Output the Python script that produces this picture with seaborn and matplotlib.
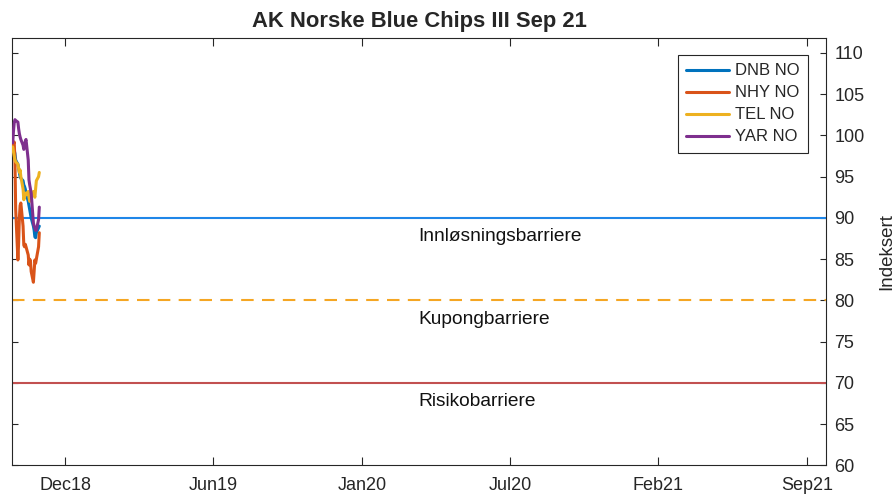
import numpy as np
import pandas as pd
import seaborn as sns
import matplotlib.pyplot as plt
import matplotlib.dates as mdates
from matplotlib.ticker import FixedLocator, MultipleLocator

# Daily index levels (start = 100)
dates = pd.bdate_range("2018-09-24", periods=27)

dnb = [99.3, 98.8, 98.2, 97.8, 97.0, 96.5, 96.0, 95.5, 95.0, 94.8, 94.5, 94.0, 93.8, 93.5,
       93.0, 92.0, 91.5, 91.0, 90.5, 90.0, 89.0, 88.5, 87.7, 87.6, 88.2, 88.8, 89.0]
nhy = [98.5, 99.0, 99.2, 97.0, 91.0, 84.9, 87.0, 90.0, 91.5, 91.8, 89.0, 86.7, 86.5, 86.8,
       86.5, 85.5, 84.3, 85.0, 84.8, 83.5, 82.2, 83.5, 84.9, 84.5, 85.0, 86.5, 88.2]
tel = [98.6, 98.0, 97.5, 97.0, 96.8, 96.5, 96.0, 95.5, 95.8, 95.0, 93.5, 92.2, 92.5, 93.0,
       92.8, 93.2, 92.5, 92.0, 92.2, 92.8, 93.2, 92.8, 92.5, 93.5, 94.5, 95.0, 95.5]
yar = [99.1, 100.5, 101.5, 101.9, 101.8, 101.6, 100.8, 100.2, 99.8, 99.5, 98.8, 98.3, 98.6, 99.3,
       99.5, 97.0, 94.6, 94.0, 93.5, 93.0, 89.4, 89.0, 88.8, 88.5, 88.5, 89.8, 91.3]

series_names = ["DNB NO", "NHY NO", "TEL NO", "YAR NO"]
series_colors = ["#0072BD", "#D95319", "#EDB120", "#7E2F8E"]

barrier_levels = [90, 80, 70]
barrier_names = ["Innløsningsbarriere", "Kupongbarriere", "Risikobarriere"]
barrier_colors = ["#1f86e8", "#f5a623", "#c25050"]
barrier_styles = ["-", (0, (6, 4)), "-"]

tick_labels = ["Dec18", "Jun19", "Jan20", "Jul20", "Feb21", "Sep21"]

df = pd.DataFrame({"Dato": dates, "DNB NO": dnb, "NHY NO": nhy, "TEL NO": tel, "YAR NO": yar})
long_df = df.melt(id_vars="Dato", var_name="Aksje", value_name="Indeks")

sns.set_style("ticks")
plt.rcParams["font.family"] = ["Liberation Sans", "DejaVu Sans"]

fig = plt.figure(figsize=(8.95, 4.96), dpi=100)
ax = fig.add_axes([0.0134, 0.0615, 0.9095, 0.862])

for lvl, col, ls in zip(barrier_levels, barrier_colors, barrier_styles):
    ax.axhline(lvl, color=col, lw=1.5, linestyle=ls, zorder=1)

sns.lineplot(data=long_df, x="Dato", y="Indeks", hue="Aksje", hue_order=series_names,
             palette=series_colors, lw=2.2, ax=ax, zorder=3)

# barrier labels, just below each line
label_x = mdates.date2num(pd.Timestamp("2020-03-27"))
for lvl, name in zip(barrier_levels, barrier_names):
    ax.text(label_x, lvl - 2.3, name, ha="left", va="center", fontsize=13.8, color="#111111")

# MATLAB-like equally spaced date ticks
tick0 = pd.Timestamp("2018-12-04")
ticks = [mdates.date2num(tick0 + pd.Timedelta(days=201 * i)) for i in range(6)]
ax.xaxis.set_major_locator(FixedLocator(ticks))
ax.set_xticklabels(tick_labels)
ax.set_xlim(mdates.date2num(pd.Timestamp("2018-09-23")), mdates.date2num(pd.Timestamp("2021-09-30")))

ax.set_ylim(60, 111.8)
ax.yaxis.set_major_locator(MultipleLocator(5))
ax.yaxis.tick_right()
ax.yaxis.set_label_position("right")
ax.set_ylabel("Indeksert", fontsize=13.5, labelpad=10)
ax.set_xlabel("")

ax.tick_params(axis="x", direction="in", length=6, width=0.8, top=True, bottom=True,
               labelsize=13, pad=8, color="#262626")
ax.tick_params(axis="y", direction="in", length=4.5, width=0.8, left=True, right=True,
               labelsize=13, pad=6, color="#262626")
for sp in ax.spines.values():
    sp.set_visible(True)
    sp.set_color("#262626")
    sp.set_linewidth(0.8)

ax.set_title("AK Norske Blue Chips III Sep 21", fontsize=15.8, fontweight="bold", pad=8)

leg = ax.legend(loc="upper right", bbox_to_anchor=(0.978, 0.96), fontsize=12, frameon=True,
                fancybox=False, handlelength=2.6, handletextpad=0.35, labelspacing=0.42,
                borderpad=0.5, borderaxespad=0)
leg.get_frame().set_edgecolor("#262626")
leg.get_frame().set_linewidth(0.8)
leg.get_frame().set_alpha(1)

fig.savefig("out.png", dpi=100)
